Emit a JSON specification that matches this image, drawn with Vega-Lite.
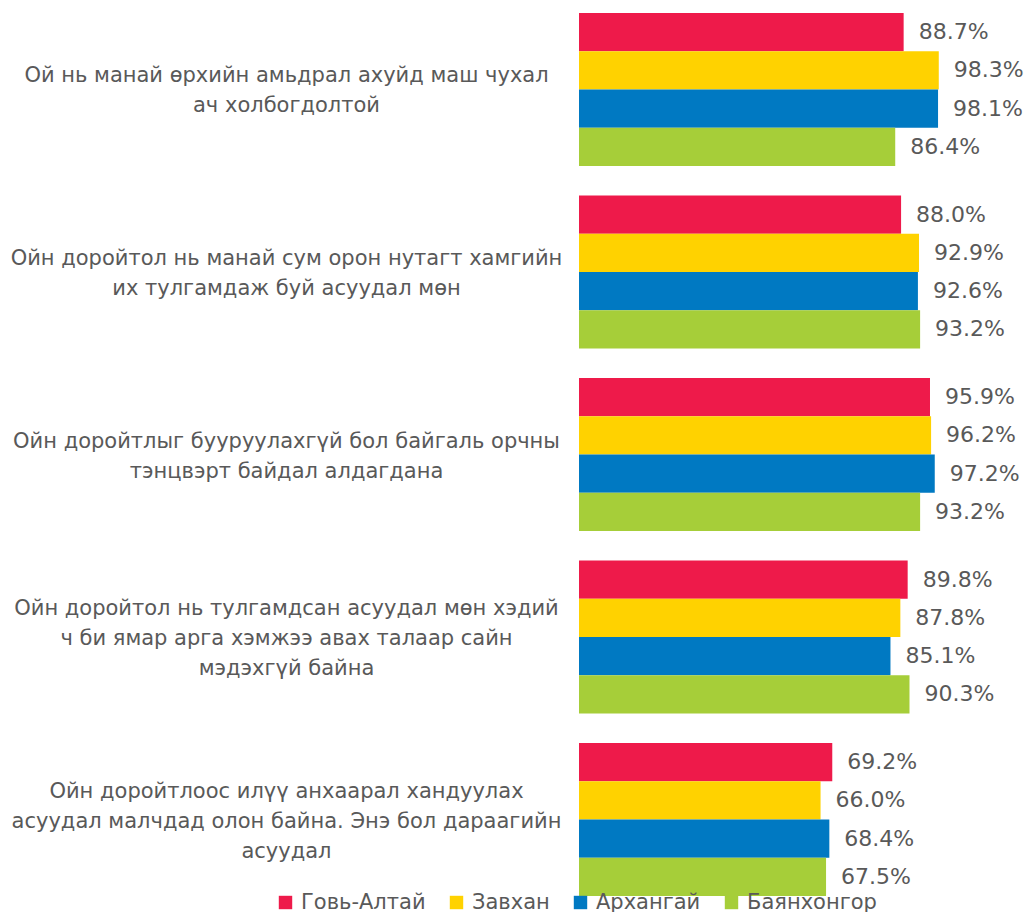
{
  "$schema": "https://vega.github.io/schema/vega-lite/v6.json",
  "autosize": {"type": "none"},
  "padding": {"left": 579, "top": 0, "right": 80, "bottom": 3},
  "width": 366,
  "height": 909,
  "background": "white",
  "config": {"view": {"stroke": null}, "font": "DejaVu Sans"},
  "data": {"values": [
    {"q": "Ой нь манай өрхийн амьдрал ахуйд маш чухал\nач холбогдолтой", "region": "Говь-Алтай", "value": 0.887},
    {"q": "Ой нь манай өрхийн амьдрал ахуйд маш чухал\nач холбогдолтой", "region": "Завхан", "value": 0.983},
    {"q": "Ой нь манай өрхийн амьдрал ахуйд маш чухал\nач холбогдолтой", "region": "Архангай", "value": 0.981},
    {"q": "Ой нь манай өрхийн амьдрал ахуйд маш чухал\nач холбогдолтой", "region": "Баянхонгор", "value": 0.864},
    {"q": "Ойн доройтол нь манай сум орон нутагт хамгийн\nих тулгамдаж буй асуудал мөн", "region": "Говь-Алтай", "value": 0.880},
    {"q": "Ойн доройтол нь манай сум орон нутагт хамгийн\nих тулгамдаж буй асуудал мөн", "region": "Завхан", "value": 0.929},
    {"q": "Ойн доройтол нь манай сум орон нутагт хамгийн\nих тулгамдаж буй асуудал мөн", "region": "Архангай", "value": 0.926},
    {"q": "Ойн доройтол нь манай сум орон нутагт хамгийн\nих тулгамдаж буй асуудал мөн", "region": "Баянхонгор", "value": 0.932},
    {"q": "Ойн доройтлыг бууруулахгүй бол байгаль орчны\nтэнцвэрт байдал алдагдана", "region": "Говь-Алтай", "value": 0.959},
    {"q": "Ойн доройтлыг бууруулахгүй бол байгаль орчны\nтэнцвэрт байдал алдагдана", "region": "Завхан", "value": 0.962},
    {"q": "Ойн доройтлыг бууруулахгүй бол байгаль орчны\nтэнцвэрт байдал алдагдана", "region": "Архангай", "value": 0.972},
    {"q": "Ойн доройтлыг бууруулахгүй бол байгаль орчны\nтэнцвэрт байдал алдагдана", "region": "Баянхонгор", "value": 0.932},
    {"q": "Ойн доройтол нь тулгамдсан асуудал мөн хэдий\nч би ямар арга хэмжээ авах талаар сайн\nмэдэхгүй байна", "region": "Говь-Алтай", "value": 0.898},
    {"q": "Ойн доройтол нь тулгамдсан асуудал мөн хэдий\nч би ямар арга хэмжээ авах талаар сайн\nмэдэхгүй байна", "region": "Завхан", "value": 0.878},
    {"q": "Ойн доройтол нь тулгамдсан асуудал мөн хэдий\nч би ямар арга хэмжээ авах талаар сайн\nмэдэхгүй байна", "region": "Архангай", "value": 0.851},
    {"q": "Ойн доройтол нь тулгамдсан асуудал мөн хэдий\nч би ямар арга хэмжээ авах талаар сайн\nмэдэхгүй байна", "region": "Баянхонгор", "value": 0.903},
    {"q": "Ойн доройтлоос илүү анхаарал хандуулах\nасуудал малчдад олон байна. Энэ бол дараагийн\nасуудал", "region": "Говь-Алтай", "value": 0.692},
    {"q": "Ойн доройтлоос илүү анхаарал хандуулах\nасуудал малчдад олон байна. Энэ бол дараагийн\nасуудал", "region": "Завхан", "value": 0.660},
    {"q": "Ойн доройтлоос илүү анхаарал хандуулах\nасуудал малчдад олон байна. Энэ бол дараагийн\nасуудал", "region": "Архангай", "value": 0.684},
    {"q": "Ойн доройтлоос илүү анхаарал хандуулах\nасуудал малчдад олон байна. Энэ бол дараагийн\nасуудал", "region": "Баянхонгор", "value": 0.675}
  ]},
  "encoding": {
    "y": {
      "field": "q", "type": "nominal", "sort": null, "title": null,
      "scale": {"paddingInner": 0.1616, "paddingOuter": 0.0712},
      "axis": {
        "domain": false, "ticks": false, "labelPadding": 293,
        "labelAlign": "center", "labelBaseline": "middle", "labelLimit": 0,
        "labelFontSize": 21, "labelColor": "#595959", "labelLineHeight": 30,
        "labelFont": "DejaVu Sans",
        "labelOffset": {"condition": {"test": "length(split(datum.label, '\\n')) == 3", "value": -28}, "value": -13},
        "labelExpr": "split(datum.label, '\\n')"
      }
    },
    "yOffset": {
      "field": "region", "type": "nominal", "sort": ["Говь-Алтай", "Завхан", "Архангай", "Баянхонгор"],
      "scale": {"paddingInner": 0, "paddingOuter": 0}
    },
    "x": {
      "field": "value", "type": "quantitative", "title": null,
      "scale": {"domain": [0, 1], "nice": false, "zero": true},
      "axis": null
    }
  },
  "layer": [
    {
      "mark": {"type": "bar"},
      "encoding": {
        "color": {
          "field": "region", "type": "nominal", "title": null,
          "sort": ["Говь-Алтай", "Завхан", "Архангай", "Баянхонгор"],
          "scale": {
            "domain": ["Говь-Алтай", "Завхан", "Архангай", "Баянхонгор"],
            "range": ["#EE1A4A", "#FFD200", "#0079C2", "#A6CE39"]
          },
          "legend": {
            "orient": "none", "legendX": -304, "legendY": 892,
            "direction": "horizontal", "columns": 4, "gridAlign": "none",
            "columnPadding": 20, "symbolType": "square", "symbolSize": 180,
            "symbolStrokeWidth": 0, "labelFontSize": 21, "labelColor": "#595959",
            "labelOffset": 5, "labelFont": "DejaVu Sans", "labelLimit": 0
          }
        }
      }
    },
    {
      "mark": {"type": "text", "align": "left", "baseline": "middle", "dx": 15, "fontSize": 22, "color": "#595959", "font": "DejaVu Sans"},
      "encoding": {
        "text": {"field": "value", "type": "quantitative", "format": ".1%"}
      }
    }
  ]
}
